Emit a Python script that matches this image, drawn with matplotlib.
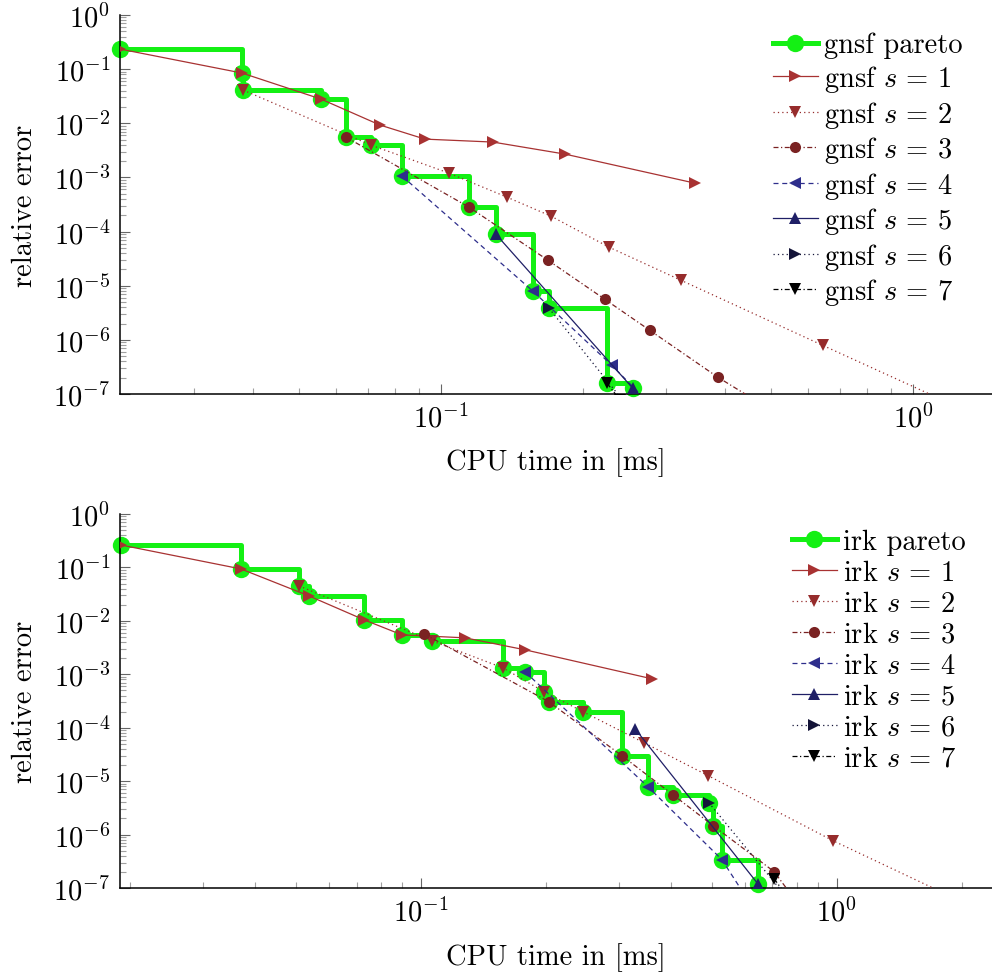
"""Work-precision diagrams: relative error against CPU time for gnsf and irk integrators."""

import matplotlib

matplotlib.use("Agg")

import matplotlib.pyplot as plt
import numpy as np
from matplotlib.ticker import FuncFormatter, LogLocator, NullFormatter

# ---- gnsf (top panel) ----
GNSF_PARETO_T = [0.0209, 0.0379, 0.0381, 0.0557, 0.0629, 0.0711, 0.0827, 0.1147, 0.1307, 0.1567, 0.1694, 0.2249, 0.255]
GNSF_PARETO_E = [0.235, 0.0847, 0.0411, 0.028, 0.00556, 0.00395, 0.00106, 2.82e-4, 8.95e-5, 7.9e-6, 3.84e-6, 1.58e-7, 1.27e-7]
GNSF_S1_T = [0.0209, 0.0379, 0.0557, 0.0743, 0.0925, 0.1288, 0.183, 0.345]
GNSF_S1_E = [0.235, 0.0847, 0.028, 0.00927, 0.0051, 0.0045, 0.0027, 7.85e-4]
GNSF_S2_T = [0.0381, 0.0711, 0.104, 0.138, 0.171, 0.227, 0.3225, 0.644, 1.29]
GNSF_S2_E = [0.0411, 0.00395, 0.0012, 4.32e-4, 1.93e-4, 5.15e-5, 1.26e-5, 7.9e-7, 5.0e-8]
GNSF_S3_T = [0.0629, 0.1147, 0.1685, 0.2225, 0.277, 0.386, 0.498]
GNSF_S3_E = [0.00556, 2.82e-4, 2.96e-5, 5.6e-6, 1.5e-6, 2.04e-7, 5.2e-8]
GNSF_S4_T = [0.0827, 0.1567, 0.230, 0.291]
GNSF_S4_E = [0.00106, 7.9e-6, 3.4e-7, 4.2e-8]
GNSF_S5_T = [0.1307, 0.255, 0.291]
GNSF_S5_E = [8.95e-5, 1.27e-7, 3.4e-8]
GNSF_S6_T = [0.1694, 0.2514]
GNSF_S6_E = [3.84e-6, 5.2e-8]
GNSF_S7_T = [0.2249, 0.239]
GNSF_S7_E = [1.58e-7, 7.9e-8]

# ---- irk (bottom panel) ----
IRK_PARETO_T = [0.019, 0.0369, 0.0509, 0.0538, 0.073, 0.090, 0.1062, 0.1574, 0.178, 0.1977, 0.203, 0.245,
                0.304, 0.351, 0.403, 0.492, 0.504, 0.529, 0.645]
IRK_PARETO_E = [0.263, 0.0938, 0.0451, 0.0293, 0.01045, 0.00547, 0.00423, 0.00132, 0.00111, 4.71e-4, 3.06e-4,
                2.0e-4, 3.0e-5, 7.9e-6, 5.6e-6, 3.97e-6, 1.47e-6, 3.4e-7, 1.21e-7]
IRK_S1_T = [0.019, 0.0369, 0.0538, 0.073, 0.090, 0.1277, 0.178, 0.359]
IRK_S1_E = [0.263, 0.0938, 0.0293, 0.01045, 0.00547, 0.00481, 0.00287, 8.24e-4]
IRK_S2_T = [0.0509, 0.1062, 0.1574, 0.1977, 0.245, 0.3435, 0.49, 0.978, 2.09]
IRK_S2_E = [0.0451, 0.00423, 0.00132, 4.71e-4, 2.0e-4, 5.25e-5, 1.27e-5, 7.7e-7, 4.7e-8]
IRK_S3_T = [0.1017, 0.203, 0.304, 0.403, 0.504, 0.706, 0.80]
IRK_S3_E = [0.00571, 3.06e-4, 3.0e-5, 5.6e-6, 1.47e-6, 2.03e-7, 5.5e-8]
IRK_S4_T = [0.178, 0.351, 0.529, 0.62]
IRK_S4_E = [0.00111, 7.9e-6, 3.4e-7, 5.0e-8]
IRK_S5_T = [0.327, 0.645, 0.70]
IRK_S5_E = [9.6e-5, 1.21e-7, 4.5e-8]
IRK_S6_T = [0.492, 0.80]
IRK_S6_E = [3.97e-6, 4.0e-8]
IRK_S7_T = [0.706, 0.80]
IRK_S7_E = [1.5e-7, 4.0e-8]

PARETO_COLOUR = "#14f014"
STAGE_STYLES = [
    # colour, linestyle, marker
    ("#a83232", "-", ">"),
    ("#962c2c", (0, (1, 2.5)), "v"),
    ("#7a2222", (0, (4, 2, 1, 2)), "o"),
    ("#2e2e8c", (0, (4, 3)), "<"),
    ("#1f1f66", "-", "^"),
    ("#141438", (0, (1, 2.5)), ">"),
    ("#000000", (0, (4, 2, 1, 2)), "v"),
]

FONT_SIZE = 20.5
FIG_W, FIG_H = 992, 978

plt.rcParams["font.family"] = "serif"
plt.rcParams["font.serif"] = ["cmr10"]
plt.rcParams["mathtext.fontset"] = "cm"
plt.rcParams["axes.formatter.use_mathtext"] = True
plt.rcParams["font.size"] = FONT_SIZE


def _decade(value, _pos):
    return rf"$10^{{{int(round(np.log10(value)))}}}$"


def draw_panel(axes, name, pareto, stages, xlim, legend_anchor):
    axes.plot(*pareto, color=PARETO_COLOUR, linewidth=3.6, drawstyle="steps-post",
              marker="o", markersize=12.5, markeredgewidth=0, zorder=2, clip_on=False,
              label=f"{name} pareto")
    for index, ((times, errors), (colour, style, marker)) in enumerate(zip(stages, STAGE_STYLES)):
        axes.plot(times, errors, color=colour, linestyle=style, linewidth=0.9,
                  marker=marker, markersize=8.5 if marker != "o" else 8.0,
                  markeredgewidth=0, zorder=3, label=rf"{name} $s\,=\,{index + 1}$")

    axes.set_xscale("log")
    axes.set_yscale("log")
    axes.set_xlim(*xlim)
    axes.set_ylim(1e-7, 1.0)

    axes.xaxis.set_major_locator(LogLocator(base=10, numticks=12))
    axes.yaxis.set_major_locator(LogLocator(base=10, numticks=12))
    for axis in (axes.xaxis, axes.yaxis):
        axis.set_minor_locator(LogLocator(base=10, subs=np.arange(2, 10), numticks=100))
        axis.set_major_formatter(FuncFormatter(_decade))
        axis.set_minor_formatter(NullFormatter())

    axes.spines["top"].set_visible(False)
    axes.spines["right"].set_visible(False)
    for side in ("left", "bottom"):
        axes.spines[side].set_linewidth(1.1)
    axes.tick_params(which="both", direction="in", top=False, right=False)
    axes.tick_params(which="major", length=7, width=0.8, color="#666666", pad=7,
                     labelsize=FONT_SIZE)
    axes.tick_params(which="minor", length=4.3, width=0.8, color="#a0a0a0")

    axes.set_xlabel("CPU time in [ms]")
    axes.set_ylabel("relative error")
    axes.yaxis.set_label_coords(-0.094, 0.5)

    axes.legend(loc="upper left", bbox_to_anchor=legend_anchor, bbox_transform=axes.figure.transFigure,
                frameon=False, borderpad=0, borderaxespad=0, handlelength=1.58,
                handletextpad=0.22, labelspacing=0.16, numpoints=1, fontsize=FONT_SIZE)


figure = plt.figure(figsize=(FIG_W / 100, FIG_H / 100), dpi=100)
left, width = 120 / FIG_W, 872 / FIG_W

top_axes = figure.add_axes([left, (FIG_H - 395) / FIG_H, width, 379 / FIG_H])
draw_panel(
    top_axes, "gnsf", (GNSF_PARETO_T, GNSF_PARETO_E),
    [(GNSF_S1_T, GNSF_S1_E), (GNSF_S2_T, GNSF_S2_E), (GNSF_S3_T, GNSF_S3_E), (GNSF_S4_T, GNSF_S4_E),
     (GNSF_S5_T, GNSF_S5_E), (GNSF_S6_T, GNSF_S6_E), (GNSF_S7_T, GNSF_S7_E)],
    (0.0209, 1.47), (773 / FIG_W, 1 - 33 / FIG_H),
)
top_axes.xaxis.set_label_coords(0.5, -0.14)

bottom_axes = figure.add_axes([left, (FIG_H - 889) / FIG_H, width, 374 / FIG_H])
draw_panel(
    bottom_axes, "irk", (IRK_PARETO_T, IRK_PARETO_E),
    [(IRK_S1_T, IRK_S1_E), (IRK_S2_T, IRK_S2_E), (IRK_S3_T, IRK_S3_E), (IRK_S4_T, IRK_S4_E),
     (IRK_S5_T, IRK_S5_E), (IRK_S6_T, IRK_S6_E), (IRK_S7_T, IRK_S7_E)],
    (0.0189, 2.36), (792 / FIG_W, 1 - 530 / FIG_H),
)
bottom_axes.xaxis.set_label_coords(0.5, -0.145)

figure.savefig("out.png", dpi=100)
